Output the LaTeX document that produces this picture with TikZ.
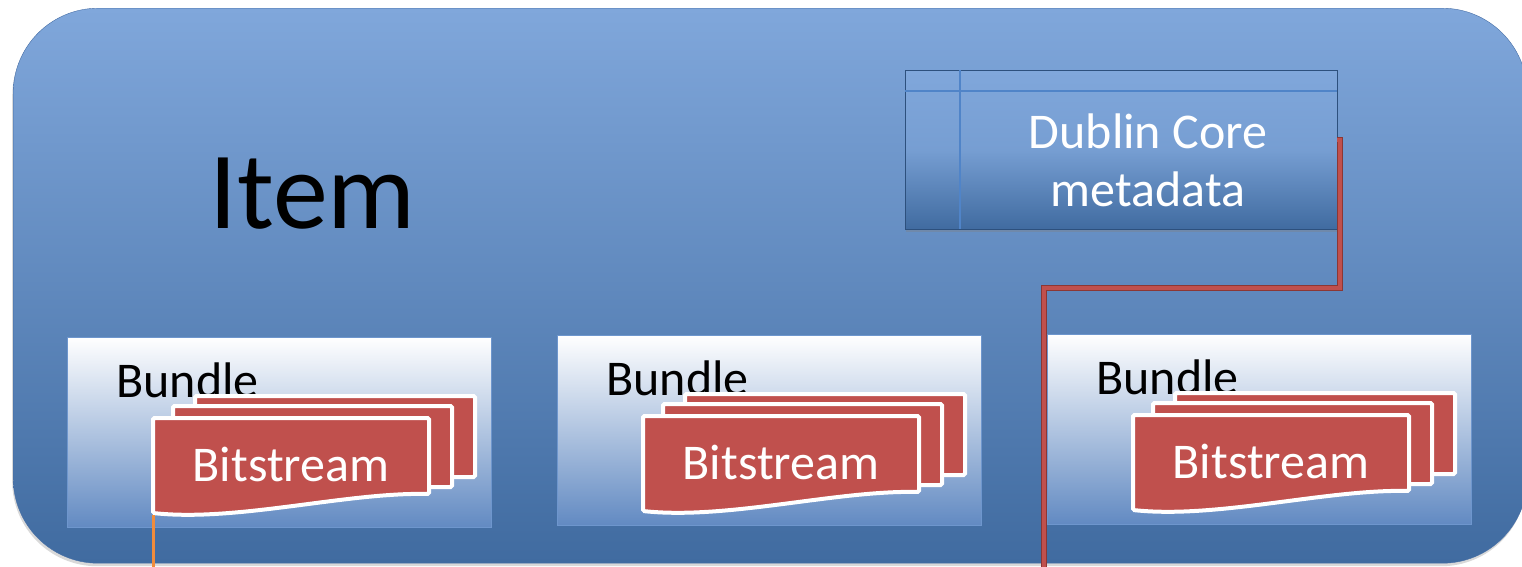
\documentclass[tikz,border=0pt]{standalone}
\usepackage{fontspec}
\setmainfont{Carlito}
\usetikzlibrary{positioning,shadows}

% colours
\definecolor{itemtop}{RGB}{128,167,219}
\definecolor{itembottom}{RGB}{64,107,160}
\definecolor{itemedge}{RGB}{70,110,165}
\definecolor{bundlebottom}{RGB}{98,138,194}
\definecolor{bundleedge}{RGB}{110,150,205}
\definecolor{dcedge}{RGB}{45,80,125}
\definecolor{dcrule}{RGB}{80,132,200}
\definecolor{bitred}{RGB}{192,80,77}
\definecolor{bitdark}{RGB}{140,55,52}
\definecolor{linkorange}{RGB}{240,140,60}

\begin{document}
\begin{tikzpicture}[x=1pt,y=-1pt,
    itembox/.style={rectangle,rounded corners=85pt,top color=itemtop,bottom color=itembottom,draw=itemedge,thin,
        drop shadow={opacity=0.3,shadow xshift=-1pt,shadow yshift=-3pt}},
    bundlebox/.style={rectangle,minimum width=424pt,minimum height=190pt,inner sep=0pt,
        top color=white,bottom color=bundlebottom,draw=bundleedge,thin},
    dcbox/.style={rectangle,minimum width=432pt,minimum height=159pt,inner sep=0pt,
        top color=itemtop,bottom color=itembottom,middle color=itemtop!85!itembottom,draw=dcedge,thin,
        drop shadow={opacity=0.35,shadow xshift=1pt,shadow yshift=-3pt}},
    sheet/.style={fill=bitred,draw=white,line width=4pt,rounded corners=1.5pt},
    bigtext/.style={font=\fontsize{50}{58}\selectfont},
    redlink/.style={draw=bitdark,line width=1pt,double=bitred,double distance=4pt},
    orangelink/.style={draw=linkorange,line width=3pt}]

    \useasboundingbox (0,0) rectangle (1522,566);

    % the item, its right edge runs off the page
    \node[itembox,anchor=north west,minimum width=1514pt,minimum height=555pt] (item) at (13,8) {};
    \node[font=\fontsize{110}{120}\selectfont,anchor=base west] (itemlabel) at (206,228) {Item};

    % metadata table
    \node[dcbox,anchor=north west] (dc) at (905,70) {};
    \draw[dcrule,line width=1.5pt] ([yshift=-21pt]dc.north west) -- ([yshift=-21pt]dc.north east);
    \draw[dcrule,line width=1.5pt] ([xshift=55pt]dc.north west) -- ([xshift=55pt]dc.south west);
    \node[bigtext,white,align=center] (dclabel) at (1148,160) {Dublin Core\\metadata};

    % bundles, each with a stack of bitstreams
    \foreach \i/\x/\y in {1/67/337,2/557/335,3/1047/334}{
        \node[bundlebox,anchor=north west] (bundle\i) at (\x,\y) {};
        \begin{scope}[shift={(\x,\y)}]
            \node[bigtext,anchor=base west] (bundlelabel\i) at (46,60) {Bundle};
            \draw[sheet] (128,59) rectangle (408,140);
            \draw[sheet] (106,69) rectangle (385,150);
            \draw[sheet] (86,81) -- (362,81) -- (362,157) .. controls (280,155) and (170,185) .. (86,176) -- cycle;
            \node[bigtext,white] (bits\i) at (224,127) {Bitstream};
            \coordinate (foot\i) at (86,178);
        \end{scope}
    }

    % links leaving the item
    \coordinate (redend) at (1044,570);
    \coordinate (orangeend) at (153,570);
    \draw[redlink] ([yshift=10pt]dc.east) -- ++(3,0) -- ++(0,148) -| (redend);
    \draw[orangelink] (foot1) -- (orangeend);

\end{tikzpicture}
\end{document}
